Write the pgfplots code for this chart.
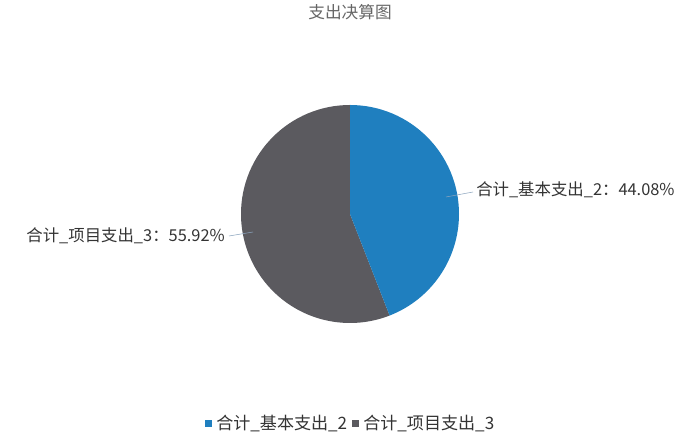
\documentclass[border=0pt]{standalone}
\usepackage{pgfplots}
\pgfplotsset{compat=1.18}
\usepackage{pgfplotstable}
\usepackage{fontspec}
\setmainfont{Noto Sans CJK SC}
\definecolor{sliceA}{HTML}{1F7FBF}
\definecolor{sliceB}{HTML}{5B5A5F}
\definecolor{leader}{HTML}{8AA3BD}
\definecolor{txt}{HTML}{333333}

\pgfplotstableread{
name value
基本支出 44.08
项目支出 55.92
}\piedata

\begin{document}
\begin{tikzpicture}
\pgfplotstablegetelem{0}{value}\of\piedata \let\va\pgfplotsretval
\pgfmathsetmacro{\angA}{90-3.6*\va}
\begin{axis}[
scale only axis,
width=525pt, height=328.5pt,
xmin=0, xmax=700,
ymin=0, ymax=438,
hide axis,
clip=false,
]
% page frame
\path (axis cs:0,0) -- (axis cs:700,438);
% wedges (centre 350,224 px; radius 109 px = 81.75pt)
\fill[sliceB] (axis cs:350,224) -- ++(90:81.75pt) arc[start angle=90, end angle=\angA+360, radius=81.75pt] -- cycle;
\fill[sliceA] (axis cs:350,224) -- ++(90:81.75pt) arc[start angle=90, end angle=\angA, radius=81.75pt] -- cycle;

% title
\node[text=black!60, font=\fontsize{12.5}{14}\selectfont, inner sep=0pt] at (axis cs:350,426) {支出决算图};

% labels
\draw[leader, thin] (axis cs:446,241) -- (axis cs:473,246);
\node[anchor=west, text=txt, font=\fontsize{12.3}{14}\selectfont, inner sep=0pt] at (axis cs:476,248) {合计\_基本支出\_2：44.08\%};
\draw[leader, thin] (axis cs:253,206) -- (axis cs:229,202);
\node[anchor=east, text=txt, font=\fontsize{12.3}{14}\selectfont, inner sep=0pt] at (axis cs:225,202) {合计\_项目支出\_3：55.92\%};

% legend
\fill[sliceA] (axis cs:205,11) rectangle (axis cs:212,18);
\node[anchor=west, text=txt, font=\fontsize{12.8}{14}\selectfont, inner sep=0pt] at (axis cs:216,14.5) {合计\_基本支出\_2};
\fill[sliceB] (axis cs:352,11) rectangle (axis cs:359,18);
\node[anchor=west, text=txt, font=\fontsize{12.8}{14}\selectfont, inner sep=0pt] at (axis cs:363,14.5) {合计\_项目支出\_3};
\end{axis}
\end{tikzpicture}
\end{document}
